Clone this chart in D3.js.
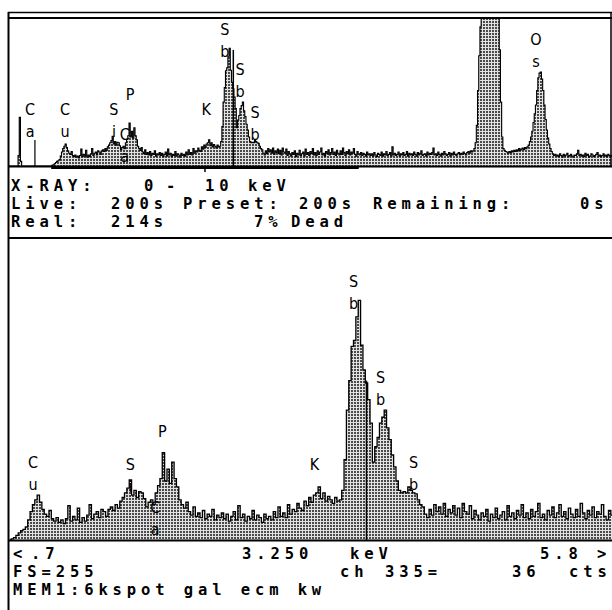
<!DOCTYPE html>
<html>
<head>
<meta charset="utf-8">
<script src="https://cdn.jsdelivr.net/npm/d3@7"></script>
<style>
  body { margin: 0; background: #fff; }
  text { font-family: "DejaVu Sans Mono", monospace; }
</style>
</head>
<body>
<div id="chart"></div>
<script>
// ---- DATA -----------------------------------------------------------

// counts per 0.02 keV channel, 0.00 .. 10.00 keV (one row = 0.5 keV)
var keVStep = 0.02;
var counts = [].concat(
  [0,0,0,0,0,0,0,0,18,84,8,0,0,0,0,0,0,0,0,0,0,0,0,0,0],
  [0,0,0,0,0,0,0,0,0,0,0,1,2,4,6,8,9,11,17,24,30,34,38,32,26],
  [22,20,25,18,16,19,15,17,14,18,29,16,20,17,27,15,19,16,21,30,18,22,24,19,26],
  [24,20,26,28,25,30,27,33,36,40,44,51,38,42,36,41,40,35,28,32,34,30,40,46,52],
  [74,50,60,48,66,52,45,34,30,27,32,24,21,28,20,23,19,25,18,22,20,26,17,21,19],
  [23,18,22,16,20,24,17,29,19,22,16,20,18,25,17,21,19,15,22,18,20,17,24,19,28],
  [20,23,19,30,22,26,24,31,27,25,33,29,36,32,38,40,45,35,40,33,37,34,31,36,33],
  [34,42,68,110,135,164,169,189,203,165,144,133,119,99,66,79,87,99,104,110,95,85,72,62,50],
  [42,40,41,40,45,42,40,39,34,30,28,22,19,26,21,30,24,28,22,31,20,26,23,29,21],
  [27,19,31,24,22,29,18,25,21,17,23,20,26,16,22,19,27,18,21,24,17,29,20,23,18],
  [25,21,30,19,23,18,26,20,24,31,19,22,17,25,21,28,19,23,30,20,24,18,27,22,19],
  [26,20,31,23,18,25,21,28,19,24,22,30,20,17,25,21,19,23,18,22,20,17,24,19,21],
  [18,21,17,23,19,16,22,20,18,24,17,21,19,25,18,20,23,17,33,19,22,18,20,24,17],
  [21,19,23,18,20,25,17,22,19,21,18,24,20,17,23,19,22,26,18,20,21,17,24,19,22],
  [20,23,31,19,21,18,24,20,17,22,19,25,21,18,20,23,17,22,19,24,20,18,21,23,19],
  [22,20,24,21,19,23,25,22,26,24,26,30,40,70,130,190,240,290,350,420,480,520,550,570,580],
  [585,580,570,540,480,400,300,200,110,50,30,27,25,24,22,25,23,26,24,27,25,28,26,30,27],
  [29,31,28,32,30,33,36,42,50,60,75,90,105,130,152,160,162,150,130,105,80,62,48,38,30],
  [25,21,18,20,17,19,16,21,18,15,20,17,19,22,16,18,20,17,15,19,18,21,27,18,20],
  [17,19,16,22,18,20,15,17,21,19,16,18,20,23,17,19,16,18,21,17,19,16,20,18,17],
  [18]
);

var fullRange = [0, 10];      // keV, upper panel
var zoomRange = [0.7, 5.8];   // keV, lower panel
var fullScale = 255;          // FS counts
var cursorKeV = 3.72;
var cursorCounts = [200, 135]; // upper, lower

// KLM marker labels: element, energy, height of the label (counts)
var topMarkers = [
  { sym: "Ca", keV: 0.35, level: 88 },
  { sym: "Cu", keV: 0.93, level: 88 },
  { sym: "Si", keV: 1.74, level: 88 },
  { sym: "Ca", keV: 1.92, level: 45 },
  { sym: "P",  keV: 2.01, level: 114 },
  { sym: "K",  keV: 3.27, level: 88 },
  { sym: "Sb", keV: 3.58, level: 226 },
  { sym: "Sb", keV: 3.83, level: 157 },
  { sym: "Sb", keV: 4.08, level: 83 },
  { sym: "Os", keV: 8.74, level: 209 }
];
var bottomMarkers = [
  { sym: "Cu", keV: 0.895, level: 61 },
  { sym: "Si", keV: 1.72, level: 59 },
  { sym: "Ca", keV: 1.93, level: 23 },
  { sym: "P",  keV: 1.99, level: 87 },
  { sym: "K",  keV: 3.28, level: 59 },
  { sym: "Sb", keV: 3.61, level: 214 },
  { sym: "Sb", keV: 3.84, level: 133 },
  { sym: "Sb", keV: 4.12, level: 61 }
];
var caLineKeV = 0.43;

// status text (token, column x)
var statusTop = [
  [["X-RAY:", 11], ["0", 144], ["-", 166], ["10", 205], ["keV", 248]],
  [["Live:", 11], ["200s", 111], ["Preset:", 183], ["200s", 299], ["Remaining:", 373], ["0s", 580]],
  [["Real:", 11], ["214s", 111], ["7%", 254], ["Dead", 291]]
];
var statusBottom = [
  [["<", 13], [".7", 31], ["3.250", 242], ["keV", 350], ["5.8", 540], [">", 597]],
  [["FS=255", 13], ["ch", 340], ["335=", 385], ["36", 512], ["cts", 569]],
  [["MEM1:6kspot gal ecm kw", 13]]
];

// ---- LAYOUT ---------------------------------------------------------

var w = 612;
var h = 610;
var left = 8;
var topY = 18;
var topBase = 166;
var sepY = 238;
var botBase = 540;
var rowGap = 18;

var spectrum = counts.map(function(c, i) {
  return { e: +(i * keVStep).toFixed(2), c: c };
});
var zoomData = spectrum.filter(function(d) {
  return d.e >= zoomRange[0] - 1e-6 && d.e <= zoomRange[1] + 1e-6;
});

// ---- SCALES ---------------------------------------------------------

var xTop = d3.scaleLinear().domain(fullRange).range([9, w]);
var yTop = d3.scaleLinear().domain([0, fullScale]).range([topBase, topY]).clamp(true);
var xBot = d3.scaleLinear().domain(zoomRange).range([10, w]);
var yBot = d3.scaleLinear().domain([0, fullScale]).range([botBase, sepY + 1]).clamp(true);

// ---- BUILD ----------------------------------------------------------

var svg = d3.select("#chart")
  .append("svg")
  .attr("width", w)
  .attr("height", h);

var defs = svg.append("defs");
var mesh = defs.append("pattern")
  .attr("id", "mesh")
  .attr("width", 3)
  .attr("height", 3)
  .attr("patternUnits", "userSpaceOnUse");
mesh.append("rect").attr("width", 3).attr("height", 3).attr("fill", "#e2e2e2");
mesh.append("rect").attr("width", 2).attr("height", 2).attr("fill", "#4a4a4a");

function drawSpectrum(data, x, y, lw) {
  var area = d3.area()
    .curve(d3.curveStep)
    .x(function(d) { return x(d.e); })
    .y0(y(0))
    .y1(function(d) { return y(d.c); });
  var line = d3.line()
    .curve(d3.curveStep)
    .x(function(d) { return x(d.e); })
    .y(function(d) { return y(d.c); });
  svg.append("path")
    .datum(data)
    .attr("d", area)
    .attr("fill", "url(#mesh)");
  svg.append("path")
    .datum(data)
    .attr("d", line)
    .attr("fill", "none")
    .attr("stroke", "#000")
    .attr("stroke-width", lw);
}

drawSpectrum(spectrum, xTop, yTop, 1.1);
drawSpectrum(zoomData, xBot, yBot, 1.3);

// cursor + marker lines
svg.append("line")
  .attr("x1", xTop(cursorKeV)).attr("x2", xTop(cursorKeV))
  .attr("y1", yTop(0)).attr("y2", yTop(cursorCounts[0]))
  .attr("stroke", "#000").attr("stroke-width", 1.5);
svg.append("line")
  .attr("x1", xBot(cursorKeV)).attr("x2", xBot(cursorKeV))
  .attr("y1", yBot(0)).attr("y2", yBot(cursorCounts[1]))
  .attr("stroke", "#000").attr("stroke-width", 1.5);
svg.append("line")
  .attr("x1", xTop(caLineKeV)).attr("x2", xTop(caLineKeV))
  .attr("y1", yTop(0)).attr("y2", yTop(45))
  .attr("stroke", "#000").attr("stroke-width", 1.2);

// marker labels (letters stacked)
function drawMarkers(list, x, y) {
  var g = svg.append("g")
    .attr("font-size", 16)
    .attr("text-anchor", "middle")
    .attr("fill", "#000");
  list.forEach(function(m) {
    var t = g.append("text")
      .attr("x", x(m.keV))
      .attr("y", y(m.level))
      .style("font-family", "'Liberation Sans Narrow', 'DejaVu Sans Condensed', sans-serif");
    t.append("tspan").text(m.sym.charAt(0));
    if (m.sym.length > 1) {
      t.append("tspan")
        .attr("x", x(m.keV))
        .attr("dy", 22)
        .text(m.sym.charAt(1));
    }
  });
}
drawMarkers(topMarkers, xTop, yTop);
drawMarkers(bottomMarkers, xBot, yBot);

// frame
var frame = svg.append("g").attr("stroke", "#000").attr("fill", "none");
frame.append("line").attr("x1", left).attr("x2", w).attr("y1", 12.5).attr("y2", 12.5).attr("stroke-width", 1.5);
frame.append("line").attr("x1", left).attr("x2", w).attr("y1", topY).attr("y2", topY).attr("stroke-width", 2);
frame.append("line").attr("x1", left + 0.5).attr("x2", left + 0.5).attr("y1", 12).attr("y2", h).attr("stroke-width", 2);
frame.append("line").attr("x1", w - 1).attr("x2", w - 1).attr("y1", 12).attr("y2", topBase).attr("stroke-width", 1.5);
frame.append("line").attr("x1", left).attr("x2", w).attr("y1", topBase + 0.5).attr("y2", topBase + 0.5).attr("stroke-width", 2);
frame.append("line")
  .attr("x1", xTop(zoomRange[0])).attr("x2", xTop(zoomRange[1]))
  .attr("y1", topBase + 1.5).attr("y2", topBase + 1.5).attr("stroke-width", 3);
frame.append("line")
  .attr("x1", xTop(d3.mean(zoomRange))).attr("x2", xTop(d3.mean(zoomRange)))
  .attr("y1", topBase).attr("y2", topBase + 6).attr("stroke-width", 1.5);
frame.append("line").attr("x1", left).attr("x2", w).attr("y1", sepY).attr("y2", sepY).attr("stroke-width", 2);
frame.append("line").attr("x1", left).attr("x2", w).attr("y1", botBase + 0.5).attr("y2", botBase + 0.5).attr("stroke-width", 2);

// status text (monospace cells of about 14.3 px)
function drawStatus(rows, y0) {
  rows.forEach(function(row, r) {
    row.forEach(function(tok) {
      svg.append("text")
        .attr("x", tok[1])
        .attr("y", y0 + r * rowGap)
        .attr("font-size", 15.5)
        .attr("font-weight", "bold")
        .attr("letter-spacing", 4.9)
        .attr("xml:space", "preserve")
        .style("white-space", "pre")
        .attr("fill", "#000")
        .text(tok[0]);
    });
  });
}
drawStatus(statusTop, 191);
drawStatus(statusBottom, 559);
</script>
</body>
</html>
